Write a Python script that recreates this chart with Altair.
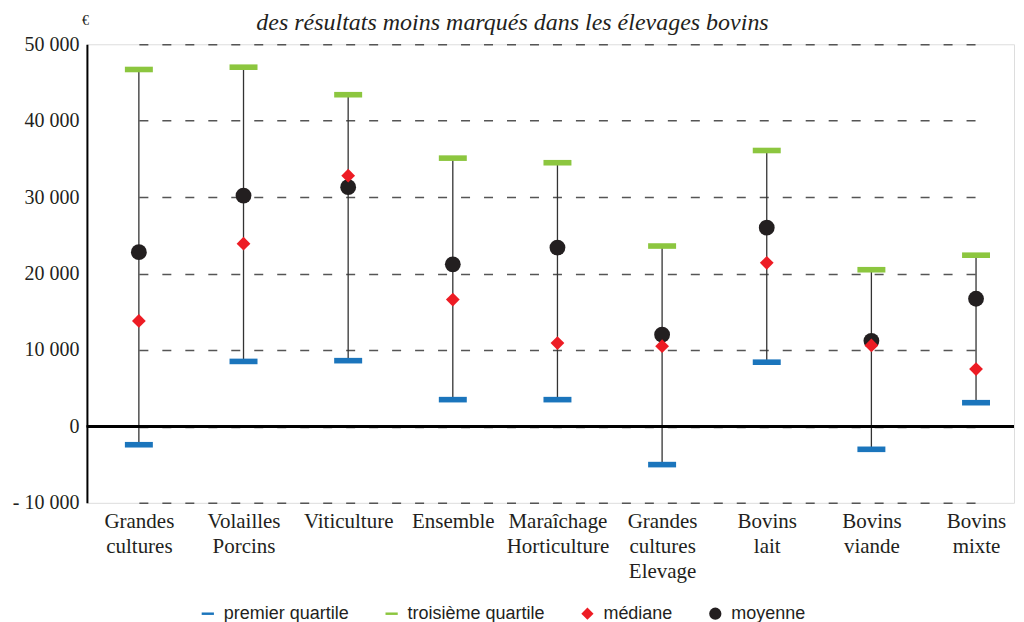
import altair as alt
import pandas as pd

categories = ["Grandes cultures", "Volailles Porcins", "Viticulture", "Ensemble",
              "Maraîchage Horticulture", "Grandes cultures Elevage",
              "Bovins lait", "Bovins viande", "Bovins mixte"]
q1 = [-2400, 8500, 8600, 3500, 3500, -5000, 8400, -3000, 3100]
q3 = [46700, 47000, 43400, 35100, 34500, 23600, 36100, 20500, 22400]
median = [13800, 23900, 32800, 16600, 10900, 10500, 21400, 10600, 7500]
mean = [22800, 30200, 31300, 21200, 23400, 12000, 26000, 11200, 16700]

series = ["premier quartile", "troisième quartile", "médiane", "moyenne"]
colors = ["#1b75bc", "#8cc63f", "#ed1c24", "#231f20"]
bar_path = "M-1,-0.2L1,-0.2L1,0.2L-1,0.2Z"
shapes = [bar_path, bar_path, "diamond", "circle"]
y_ticks = [-10000, 0, 10000, 20000, 30000, 40000, 50000]

wide = pd.DataFrame({"category": categories, "q1": q1, "q3": q3})
rows = []
for i, c in enumerate(categories):
    for s, vals in zip(series, [q1, q3, median, mean]):
        rows.append({"category": c, "series": s, "value": vals[i]})
long = pd.DataFrame(rows)

serif = "Liberation Serif"

x_enc = alt.X("category:N", sort=categories,
              scale=alt.Scale(type="point", range=[52, 890], padding=0),
              axis=alt.Axis(title=None, labelAngle=0, domain=False, ticks=False, grid=False,
                            labelExpr="split(datum.label, ' ')",
                            labelFont=serif, labelFontSize=21, labelLineHeight=25,
                            labelColor="#231f20", labelPadding=8, labelBaseline="top"))
y_scale = alt.Scale(domain=[-10000, 50000], nice=False)
y_axis = alt.Axis(values=y_ticks, title="€", titleAngle=0, titleX=-2, titleY=-24,
                  titleAlign="center", titleBaseline="middle", titleFont=serif,
                  titleFontSize=14, titleFontWeight="normal", titleColor="#231f20",
                  labelExpr="datum.value == 0 ? '0' : (datum.value < 0 ? '- ' : '') + replace(format(abs(datum.value), ','), ',', ' ')",
                  labelFont=serif, labelFontSize=20, labelFontWeight="normal",
                  labelColor="#231f20", labelPadding=8,
                  domain=True, domainColor="#000000", domainWidth=2, ticks=False,
                  grid=True, gridDash=[9, 14], gridColor="#555555", gridWidth=1.5)

rules = alt.Chart(wide).mark_rule(color="#333333", strokeWidth=1.3).encode(
    x=x_enc,
    y=alt.Y("q1:Q", scale=y_scale, axis=y_axis),
    y2="q3:Q",
)

zero = alt.Chart(wide).mark_rule(color="#000000", strokeWidth=2.2).encode(
    y=alt.datum(0)
)

color_enc = alt.Color("series:N", sort=series,
                      scale=alt.Scale(domain=series, range=colors),
                      legend=alt.Legend(title=None, orient="none", direction="horizontal",
                                        columns=4, legendX=112, legendY=561, padding=0,
                                        labelFont="Liberation Sans", labelFontSize=18,
                                        labelColor="#231f20", symbolSize=150,
                                        columnPadding=33, labelOffset=7))
shape_enc = alt.Shape("series:N", sort=series,
                      scale=alt.Scale(domain=series, range=shapes))

base = alt.Chart(long).encode(
    x=x_enc, y=alt.Y("value:Q", scale=y_scale, axis=y_axis),
    color=color_enc, shape=shape_enc
)
bars = base.transform_filter(
    alt.FieldOneOfPredicate(field="series", oneOf=series[:2])
).mark_point(filled=True, opacity=1, strokeWidth=0, size=784)
meds = base.transform_filter(
    alt.FieldEqualPredicate(field="series", equal=series[2])
).mark_point(filled=True, opacity=1, strokeWidth=0, size=190)
means = base.transform_filter(
    alt.FieldEqualPredicate(field="series", equal=series[3])
).mark_point(filled=True, opacity=1, strokeWidth=0, size=250)

chart = alt.layer(rules, zero, bars, means, meds).properties(
    width=928, height=459,
    title=alt.TitleParams("des résultats moins marqués dans les élevages bovins",
                          font=serif, fontSize=24, fontStyle="italic",
                          fontWeight="normal", color="#231f20", anchor="middle",
                          dx=-38, offset=-22),
).configure_view(stroke=None).configure(
    font="Liberation Sans", padding={"left": 4, "top": 3, "right": 0, "bottom": 0}
).configure_axis(labelFont=serif, titleFont=serif)

chart.save("out.html", embed_options={"renderer": "svg", "actions": False})
